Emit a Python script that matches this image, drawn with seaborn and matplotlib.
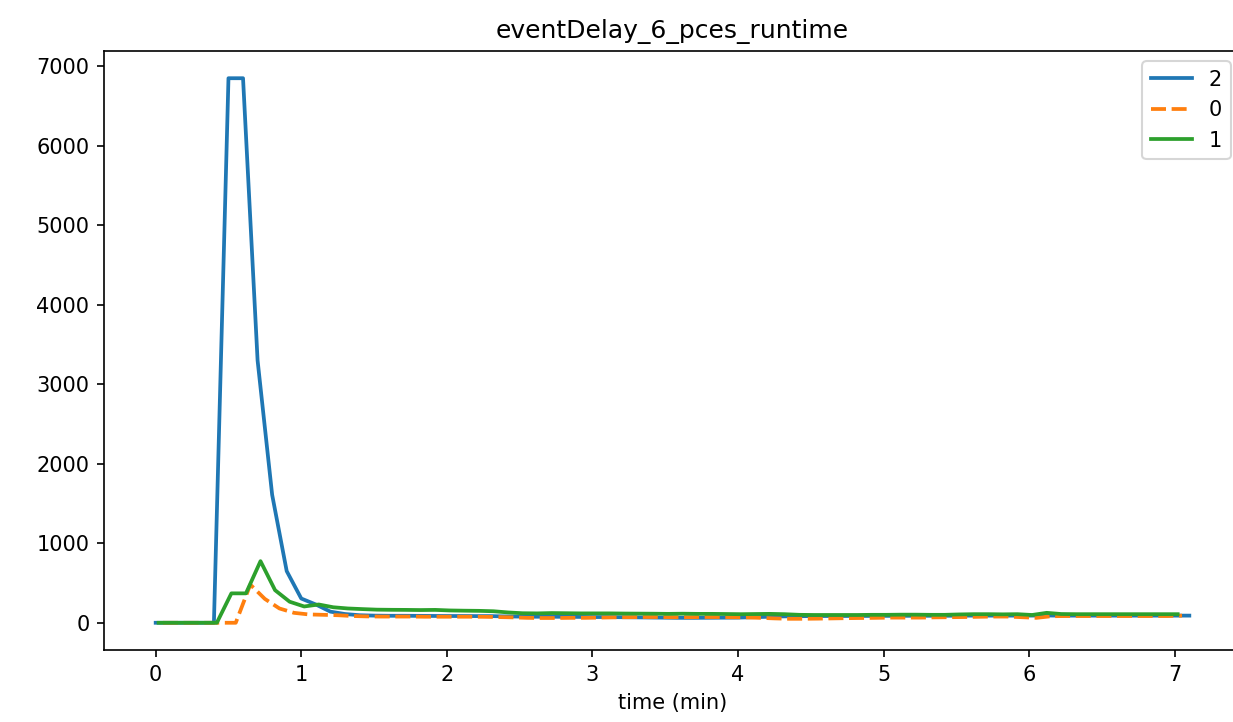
import numpy as np
import pandas as pd
import seaborn as sns
import matplotlib
matplotlib.use("Agg")
import matplotlib.pyplot as plt

# sample times (min) for each run
t_run2 = np.round(np.arange(0, 72) * 0.1, 2)
t_run0 = np.round(0.05 + np.arange(0, 71) * 0.1, 2)
t_run1 = np.round(0.02 + np.arange(0, 71) * 0.1, 2)

# eventDelay values
run2 = [0, 0, 0, 0, 0, 6850, 6850, 3300, 1610, 650, 305, 230, 140, 110, 95, 90,
        88, 88, 87, 86, 85, 85, 84, 84, 80, 78, 76, 76, 75, 74, 72, 72, 70, 68,
        66, 64, 62, 62, 63, 64, 65, 70, 75, 80, 82, 84, 85, 85, 86, 86, 87, 87,
        88, 88, 88, 89, 90, 90, 90, 90, 90, 92, 90, 90, 90, 90, 90, 90, 90, 90,
        90, 90]
run0 = [0, 0, 0, 0, 0, 0, 480, 300, 180, 125, 105, 100, 95, 85, 80, 78, 78, 78,
        76, 76, 76, 76, 75, 72, 68, 62, 60, 60, 62, 62, 65, 68, 70, 72, 72, 70,
        70, 72, 72, 70, 68, 62, 55, 50, 50, 52, 55, 58, 60, 62, 65, 65, 65, 68,
        70, 72, 75, 78, 78, 70, 62, 82, 85, 85, 85, 85, 85, 85, 85, 85, 90]
run1 = [0, 0, 0, 0, 0, 370, 370, 775, 410, 265, 205, 230, 195, 180, 172, 165,
        163, 162, 160, 162, 155, 152, 150, 145, 130, 120, 118, 122, 120, 118,
        118, 118, 116, 115, 114, 112, 114, 112, 112, 110, 108, 110, 112, 108,
        100, 98, 98, 98, 98, 100, 100, 102, 102, 100, 100, 105, 108, 108, 106,
        108, 98, 125, 110, 108, 108, 108, 108, 108, 108, 108, 108]

runs = ["2", "0", "1"]

df = pd.concat([
    pd.DataFrame({"time": t_run2, "delay": run2, "run": "2"}),
    pd.DataFrame({"time": t_run0, "delay": run0, "run": "0"}),
    pd.DataFrame({"time": t_run1, "delay": run1, "run": "1"}),
], ignore_index=True)

fig = plt.figure(figsize=(1233 / 150, 722 / 150), dpi=150)
# the original figure is cropped on the right, so the axes run past the edge
ax = fig.add_axes([104 / 1233, 1 - 650 / 722, (1241 - 104) / 1233, (650 - 51) / 722])

sns.lineplot(data=df, x="time", y="delay", hue="run", style="run",
             hue_order=runs, style_order=runs,
             palette=["#1f77b4", "#ff7f0e", "#2ca02c"],
             dashes={"2": "", "0": (4, 1.5), "1": ""},
             linewidth=1.8, ax=ax)

ax.set_title("eventDelay_6_pces_runtime")
ax.set_xlabel("time (min)")
ax.set_ylabel("")

handles, labels = ax.get_legend_handles_labels()
keep = [(h, l) for h, l in zip(handles, labels) if l in runs]
ax.legend([h for h, _ in keep], [l for _, l in keep], loc="upper right")

fig.savefig("out.png", dpi=150)
